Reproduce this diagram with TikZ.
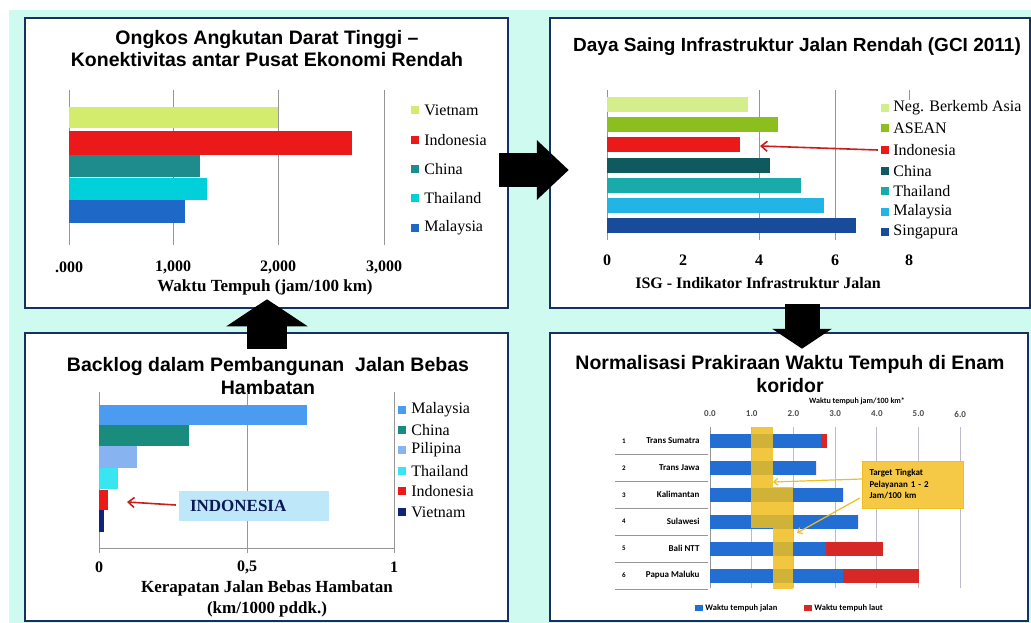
\documentclass[tikz,border=0pt]{standalone}
\usepackage{fontspec}
\setmainfont{Liberation Serif}
\setsansfont{Liberation Sans}
\newfontfamily\calfont{Carlito}
\usepackage{xcolor}
\usetikzlibrary{arrows.meta,calc,positioning}

\definecolor{bgmint}{RGB}{206,250,240}
\definecolor{panelnavy}{RGB}{22,48,98}
\definecolor{gridgray}{RGB}{150,150,150}
\definecolor{barred}{RGB}{235,25,25}
\definecolor{tlviet}{RGB}{212,236,110}
\definecolor{tlchina}{RGB}{30,140,140}
\definecolor{tlthai}{RGB}{0,208,218}
\definecolor{tlmalay}{RGB}{30,105,200}
\definecolor{trneg}{RGB}{212,238,140}
\definecolor{trasean}{RGB}{140,190,30}
\definecolor{trchina}{RGB}{15,90,95}
\definecolor{trthai}{RGB}{25,170,170}
\definecolor{trmalay}{RGB}{35,180,230}
\definecolor{trsing}{RGB}{25,75,155}
\definecolor{blmalay}{RGB}{75,155,240}
\definecolor{blchina}{RGB}{25,140,125}
\definecolor{blpili}{RGB}{135,180,240}
\definecolor{blthai}{RGB}{55,230,240}
\definecolor{blviet}{RGB}{15,35,120}
\definecolor{indobox}{RGB}{190,232,250}
\definecolor{arrowred}{RGB}{200,30,30}
\definecolor{brblue}{RGB}{35,110,210}
\definecolor{brred}{RGB}{215,40,40}
\definecolor{bandgold}{RGB}{240,190,30}
\definecolor{calloutgold}{RGB}{245,200,70}
\definecolor{brgrid}{RGB}{190,185,205}

\begin{document}
\begin{tikzpicture}[x=1pt,y=-1pt,>=Latex]
	\tikzstyle{panel}=[draw=panelnavy,line width=2.5pt,fill=white,inner sep=0pt]
	\tikzstyle{title}=[font=\sffamily\bfseries\fontsize{19.5}{22.5}\selectfont,align=center]
	\tikzstyle{tick}=[font=\bfseries\fontsize{16}{18}\selectfont]
	\tikzstyle{axtitle}=[font=\bfseries\fontsize{17}{21}\selectfont,align=center,inner sep=0pt]
	\tikzstyle{legtext}=[font=\fontsize{16}{18}\selectfont,anchor=west,inner sep=0pt]
	\tikzstyle{legkey}=[minimum size=8pt,inner sep=0pt]
	\tikzstyle{grid}=[draw=gridgray,line width=1pt]
	\tikzstyle{blockarrow}=[draw=black]
	\tikzstyle{redarrow}=[draw=arrowred,line width=1.6pt,-{Straight Barb[length=6pt,width=10pt]}]
	\tikzstyle{brtick}=[font=\calfont\bfseries\fontsize{9}{10}\selectfont,text=black!70]
	\tikzstyle{rowlab}=[font=\calfont\bfseries\fontsize{9}{10}\selectfont,anchor=east]
	\tikzstyle{brleg}=[font=\calfont\bfseries\fontsize{8.5}{10}\selectfont,anchor=west,inner sep=0pt]
	\tikzstyle{band}=[fill=bandgold,opacity=0.85]
	\tikzstyle{goldarrow}=[draw=bandgold,line width=1.2pt,-{Straight Barb[length=4pt,width=7pt]}]

	\useasboundingbox (0,0) rectangle (1031,623);
	\fill[white] (0,0) rectangle (1031,623);
	\fill[bgmint] (9,10) rectangle (1031,623);

	\node[panel,minimum width=483pt,minimum height=290pt] (tl) at (266.5,163) {};
	\node[panel,minimum width=480pt,minimum height=290pt] (tr) at (790,163) {};
	\node[panel,minimum width=483pt,minimum height=288pt] (bl) at (266.5,477) {};
	\node[panel,minimum width=478pt,minimum height=288pt] (br) at (789,477) {};

	% waktu tempuh
	\node[title] (tltitle) at (267,48.5) {Ongkos Angkutan Darat Tinggi --\\Konektivitas antar Pusat Ekonomi Rendah};
	\foreach \x in {173,278,384} \draw[grid] (\x,90) -- (\x,245);
	\draw[grid] (69,90) -- (69,245);
	\fill[tlviet] (69,107) rectangle (278,128);
	\fill[barred] (69,131) rectangle (352,155);
	\fill[tlchina] (69,155) rectangle (200,177);
	\fill[tlthai] (69,178) rectangle (207,200);
	\fill[tlmalay] (69,200) rectangle (185,223);
	\foreach \x/\t [count=\i] in {69/.000,173/{1,000},278/{2,000},384/{3,000}}
		\node[tick] (tlt\i) at (\x,267) {\t};
	\node[axtitle] (tlaxis) at (265,287) {Waktu Tempuh (jam/100 km)};
	\foreach \c/\n/\y [count=\i] in {tlviet/Vietnam/110,barred/Indonesia/140,tlchina/China/169,tlthai/Thailand/198,tlmalay/Malaysia/228}{
		\node[legkey,fill=\c] (tlk\i) at (415,\y) {};
		\node[legtext,right=5pt of tlk\i] (tll\i) {\n};
	}

	% GCI
	\node[title,font=\sffamily\bfseries\fontsize{19}{22}\selectfont] (trtitle) at (797,47) {Daya Saing Infrastruktur Jalan Rendah (GCI 2011)};
	\foreach \x in {759,835} \draw[grid] (\x,90) -- (\x,240);
	\draw[grid] (909,90) -- (909,100);
	\draw[grid] (607,90) -- (607,240);
	\foreach \c/\v [count=\i] in {trneg/3.7,trasean/4.5,barred/3.5,trchina/4.3,trthai/5.1,trmalay/5.7,trsing/6.55}
		\fill[\c] (607,97+20.2*\i-20.2) rectangle (607+38*\v,112+20.2*\i-20.2);
	\foreach \x/\t [count=\i] in {607/0,683/2,759/4,835/6,909/8}
		\node[tick] (trt\i) at (\x,260) {\t};
	\node[axtitle,font=\bfseries\fontsize{16}{18}\selectfont] (traxis) at (758,283) {ISG - Indikator Infrastruktur Jalan};
	\foreach \c/\n/\y [count=\i] in {trneg/Neg. Berkemb Asia/108,trasean/ASEAN/128,barred/Indonesia/150,trchina/China/171,trthai/Thailand/191,trmalay/Malaysia/212,trsing/Singapura/232}{
		\node[legkey,fill=\c] (trk\i) at (885,\y) {};
		\node[legtext,right=4pt of trk\i] (trl\i) {\n};
	}
	\coordinate (trtip) at (760,146);
	\draw[redarrow] ($(trk3.west)+(-3,0)$) -- (trtip);

	% jalan bebas hambatan
	\node[title] (bltitle) at (268,376) {Backlog dalam Pembangunan\ \ Jalan Bebas\\Hambatan};
	\draw[grid] (247,392) -- (247,548);
	\draw[grid] (394,392) -- (394,553);
	\draw[grid] (99,392) -- (99,553);
	\draw[grid] (99,548) -- (394,548);
	\draw[grid] (247,548) -- (247,553);
	\fill[blmalay] (99,405) rectangle (307,425);
	\fill[blchina] (99,425) rectangle (189,446);
	\fill[blpili] (99,446) rectangle (137,468);
	\fill[blthai] (99,468) rectangle (118,489);
	\fill[barred] (99,490) rectangle (108,510);
	\fill[blviet] (99,510) rectangle (104,532);
	\node[fill=indobox,minimum width=150pt,minimum height=30pt,text width=128pt,inner xsep=11pt,align=left,font=\bfseries\fontsize{17}{18}\selectfont,text=blviet!70!black] (indbox) at (254,506) {INDONESIA};
	\coordinate (bltip) at (127,502);
	\draw[redarrow] ($(indbox.west)+(-3,-1)$) -- (bltip);
	\foreach \x/\t [count=\i] in {99/0,247/{0,5},394/1}
		\node[tick] (blt\i) at (\x,567) {\t};
	\node[axtitle] (blaxis) at (267,599) {Kerapatan Jalan Bebas Hambatan\\(km/1000 pddk.)};
	\foreach \c/\n/\y [count=\i] in {blmalay/Malaysia/410,blchina/China/430,blpili/Pilipina/450,blthai/Thailand/471,barred/Indonesia/491,blviet/Vietnam/512}{
		\node[legkey,fill=\c] (blk\i) at (402,\y) {};
		\node[legtext,right=5pt of blk\i] (bll\i) {\n};
	}

	% koridor
	\node[title] (brtitle) at (790,374) {Normalisasi Prakiraan Waktu Tempuh di Enam\\koridor};
	\node[font=\calfont\bfseries\fontsize{8}{9}\selectfont] (brunit) at (857,401) {Waktu tempuh jam/100 km*};
	\foreach \v in {1,...,6} \draw[draw=brgrid,line width=0.8pt] (710+41.7*\v,427) -- (710+41.7*\v,588);
	\draw[draw=gridgray,line width=0.8pt] (710,427) -- (710,588);
	\foreach \v in {0,...,6} \node[brtick] (brt\v) at (710+41.7*\v,414) {\v.0};
	\foreach \n/\b/\r [count=\i] in {Trans Sumatra/2.65/2.8,Trans Jawa/2.55/2.55,Kalimantan/3.2/3.2,Sulawesi/3.55/3.55,Bali NTT/2.78/4.15,Papua Maluku/3.2/5.0}{
		\pgfmathsetmacro\yt{434+26.9*(\i-1)}
		\fill[brblue] (710,\yt) rectangle (710+41.7*\b,\yt+14);
		\fill[brred] (710+41.7*\b,\yt) rectangle (710+41.7*\r,\yt+14);
		\node[rowlab] (brrow\i) at (703,\yt+7) {\n};
		\node[font=\calfont\bfseries\fontsize{7}{8}\selectfont] (brnum\i) at (624,\yt+7) {\i};
		\draw[draw=gridgray,line width=0.8pt] (615,\yt+20.5) -- (708,\yt+20.5);
	}
	\fill[band] (751,427) rectangle (773,528);
	\fill[band] (773,487) rectangle (793,589);
	\node[fill=calloutgold,draw=bandgold,minimum width=101pt,minimum height=47pt,text width=86pt,align=left,font=\calfont\bfseries\fontsize{9}{11.5}\selectfont] (target) at (912.5,484.5) {Target Tingkat\\Pelayanan 1 - 2\\Jam/100 km};
	\coordinate (bandA) at (773,482);
	\coordinate (bandB) at (797,533);
	\draw[goldarrow] ($(target.west)+(0,-5.5)$) -- (bandA);
	\draw[goldarrow] ($(target.west)+(-2,13.5)$) -- (bandB);
	\node[legkey,fill=brblue,minimum width=8pt,minimum height=6pt] (brk1) at (699,608) {};
	\node[brleg,right=2pt of brk1] (brl1) {Waktu tempuh jalan};
	\node[legkey,fill=brred,minimum width=8pt,minimum height=6pt] (brk2) at (808,608) {};
	\node[brleg,right=2pt of brk2] (brl2) {Waktu tempuh laut};

	% panah
	\draw[blockarrow,line width=33pt,-{Triangle[length=32pt,width=58pt]}] ($(tl.east)+(-10,7)$) -- ($(tr.west)+(20,7)$);
	\draw[blockarrow,line width=35pt,-{Triangle[length=20pt,width=59pt]}] ($(tr.south)+(12,-5)$) -- ($(br.north)+(13,17)$);
	\draw[blockarrow,line width=40pt,-{Triangle[length=27pt,width=80pt]}] ($(bl.north)+(0.5,17)$) -- ($(tl.south)+(0.5,-10)$);
\end{tikzpicture}
\end{document}
